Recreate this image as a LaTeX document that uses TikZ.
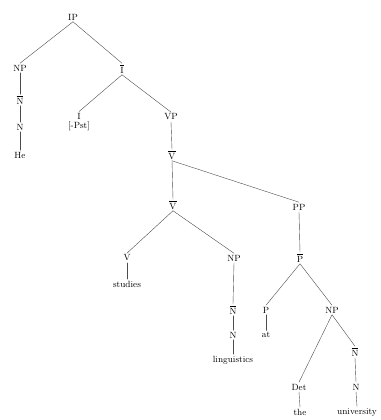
\documentclass[tikz,border=0pt]{standalone}
\begin{document}
\begin{tikzpicture}[x=1pt, y=-1pt, font=\small, line join=round, line cap=round,
  every node/.style={inner sep=1.5pt, align=center},
  branch/.style={draw=black!70, line width=.4pt}]
\useasboundingbox (0,0) rectangle (380,420);
\path
(73,17) node (IP) {IP}
(20,68) node (NPa) {NP}
(122,69) node (Ib) {$\overline{\mathrm{I}}$}
(20,100) node (Nba) {$\overline{\mathrm{N}}$}
(20,127) node (Na) {N}
(20,155) node (He) {He}
(79,122) node (I) {I\\[-2pt][-Pst]}
(171,117) node (VP) {VP}
(172,155) node (Vb) {$\overline{\mathrm{V}}$}
(173,205) node (Vbl) {$\overline{\mathrm{V}}$}
(299,207) node (PP) {PP}
(127,258) node (V) {V}
(127,284) node (studies) {studies}
(234,258) node (NPb) {NP}
(233,310) node (Nbb) {$\overline{\mathrm{N}}$}
(233,335) node (Nb) {N}
(233,360) node (ling) {linguistics}
(300,258) node (Pb) {$\overline{\mathrm{P}}$}
(266,310) node (P) {P}
(266,335) node (at) {at}
(332,310) node (NPc) {NP}
(355,352) node (Nbc) {$\overline{\mathrm{N}}$}
(299,387) node (Det) {Det}
(300,412) node (the) {the}
(356,387) node (Nc) {N}
(357,412) node (univ) {university};
% branches
\foreach \a/\b in {IP/NPa,IP/Ib,NPa/Nba,Nba/Na,Na/He,Ib/I,Ib/VP,VP/Vb,Vb/Vbl,Vb/PP,
  Vbl/V,Vbl/NPb,V/studies,NPb/Nbb,Nbb/Nb,Nb/ling,PP/Pb,Pb/P,Pb/NPc,P/at,
  NPc/Det,NPc/Nbc,Det/the,Nbc/Nc,Nc/univ}
\draw[branch] (\a.south)--(\b.north);
\end{tikzpicture}
\end{document}
